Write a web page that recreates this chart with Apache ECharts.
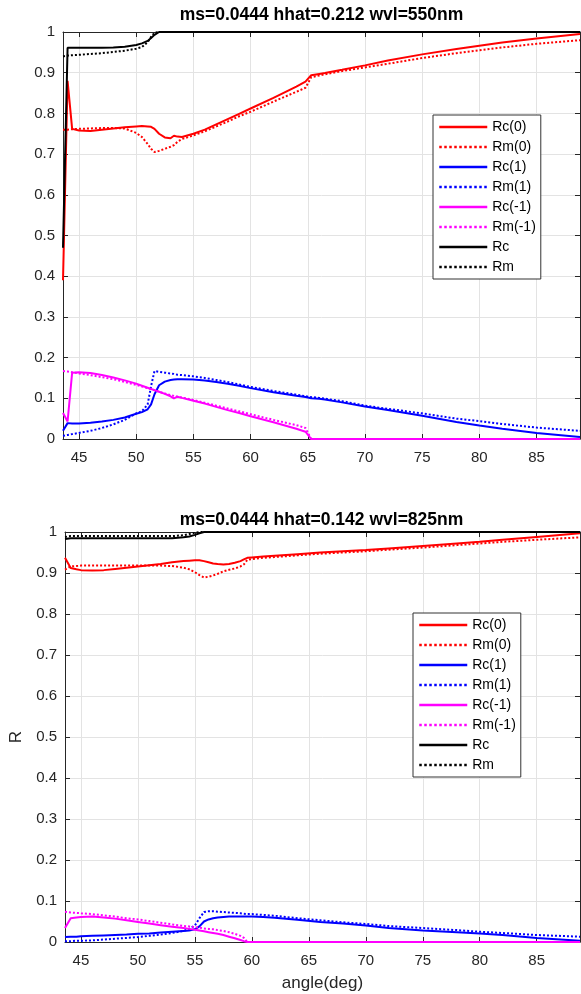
<!DOCTYPE html>
<html>
<head>
<meta charset="utf-8">
<script src="https://cdn.jsdelivr.net/npm/echarts@6/dist/echarts.min.js"></script>
<style>html,body{margin:0;padding:0;background:#fff;}#c{width:581px;height:994px;}</style>
</head>
<body>
<div id="c"></div>
<script>
// ---------- data: top panel (550 nm) ----------
var titleTop = 'ms=0.0444 hhat=0.212 wvl=550nm';
var titleBottom = 'ms=0.0444 hhat=0.142 wvl=825nm';
var seriesNames = ['Rc(0)','Rm(0)','Rc(1)','Rm(1)','Rc(-1)','Rm(-1)','Rc','Rm'];
var xTicks = [45,50,55,60,65,70,75,80,85];

var angleTop = [43.6,44.0,44.4,45,46,47,48,49,50,50.5,51,51.3,51.6,52,52.5,53,53.3,53.6,54,55,56,57,58,59,60,62,64,64.8,65.3,66,66.5,68,70,72,75,78,80,82,85,88.8];
var topRc0  = [0.39,0.88,0.762,0.758,0.757,0.76,0.763,0.766,0.768,0.769,0.768,0.767,0.762,0.75,0.741,0.739,0.745,0.743,0.742,0.75,0.76,0.773,0.786,0.799,0.812,0.838,0.866,0.878,0.894,0.897,0.899,0.907,0.918,0.93,0.945,0.958,0.966,0.974,0.984,0.995];
var topRm0  = [0.76,0.76,0.761,0.762,0.763,0.764,0.764,0.763,0.752,0.742,0.725,0.713,0.705,0.708,0.713,0.718,0.722,0.73,0.737,0.746,0.756,0.768,0.78,0.793,0.804,0.829,0.853,0.863,0.889,0.893,0.896,0.904,0.913,0.922,0.936,0.948,0.955,0.962,0.971,0.98];
var topRc1  = [0.02,0.039,0.038,0.038,0.04,0.043,0.047,0.053,0.062,0.066,0.073,0.085,0.11,0.132,0.141,0.145,0.146,0.147,0.147,0.146,0.144,0.14,0.136,0.131,0.125,0.115,0.106,0.103,0.1,0.099,0.097,0.09,0.08,0.071,0.057,0.042,0.033,0.025,0.015,0.005];
var topRm1  = [0.008,0.01,0.012,0.015,0.02,0.027,0.036,0.047,0.063,0.068,0.085,0.13,0.167,0.165,0.163,0.161,0.16,0.158,0.157,0.154,0.15,0.145,0.14,0.134,0.128,0.118,0.109,0.105,0.103,0.101,0.099,0.093,0.082,0.074,0.063,0.05,0.044,0.037,0.028,0.02];
var topRcm1 = [0.064,0.043,0.163,0.164,0.162,0.157,0.151,0.144,0.136,0.131,0.126,0.123,0.12,0.116,0.111,0.105,0.1,0.104,0.101,0.094,0.087,0.079,0.071,0.064,0.056,0.041,0.025,0.018,0,0,0,0,0,0,0,0,0,0,0,0];
var topRmm1 = [0.167,0.166,0.164,0.161,0.157,0.152,0.147,0.14,0.133,0.129,0.125,0.122,0.12,0.116,0.112,0.108,0.106,0.104,0.102,0.096,0.089,0.082,0.075,0.068,0.061,0.047,0.034,0.027,0,0,0,0,0,0,0,0,0,0,0,0];
var topRc   = [0.47,0.961,0.961,0.961,0.961,0.961,0.962,0.964,0.968,0.972,0.978,0.985,0.993,1,1,1,1,1,1,1,1,1,1,1,1,1,1,1,1,1,1,1,1,1,1,1,1,1,1,1];
var topRm   = [0.94,0.942,0.943,0.944,0.946,0.948,0.951,0.954,0.959,0.963,0.975,0.988,0.998,1,1,1,1,1,1,1,1,1,1,1,1,1,1,1,1,1,1,1,1,1,1,1,1,1,1,1];

// ---------- data: bottom panel (825 nm) ----------
var angleBot = [43.6,44.1,44.6,45,46,47,48,49,50,51,52,53,54,54.5,55,55.4,55.8,56.2,56.6,57,57.5,58,58.5,59,59.3,59.6,60,61,62,64,66,68,70,72,75,78,80,82,85,88.8];
var botRc0  = [0.937,0.912,0.909,0.907,0.906,0.907,0.91,0.913,0.916,0.919,0.922,0.926,0.929,0.93,0.931,0.931,0.929,0.926,0.923,0.922,0.921,0.922,0.925,0.929,0.933,0.937,0.938,0.94,0.942,0.946,0.95,0.953,0.956,0.96,0.966,0.972,0.976,0.981,0.988,0.997];
var botRm0  = [0.908,0.916,0.917,0.918,0.918,0.918,0.918,0.918,0.918,0.918,0.918,0.917,0.913,0.909,0.902,0.895,0.889,0.891,0.894,0.898,0.904,0.908,0.911,0.916,0.921,0.932,0.934,0.937,0.939,0.943,0.947,0.95,0.953,0.957,0.962,0.968,0.972,0.976,0.981,0.987];
var botRc1  = [0.012,0.013,0.013,0.014,0.015,0.016,0.017,0.018,0.02,0.021,0.023,0.025,0.027,0.028,0.031,0.038,0.05,0.055,0.058,0.06,0.061,0.062,0.062,0.062,0.062,0.062,0.062,0.061,0.059,0.054,0.049,0.045,0.04,0.034,0.028,0.024,0.021,0.017,0.01,0.003];
var botRm1  = [0.002,0.002,0.003,0.003,0.004,0.006,0.008,0.01,0.012,0.015,0.018,0.022,0.027,0.032,0.04,0.058,0.073,0.075,0.075,0.074,0.073,0.072,0.071,0.07,0.069,0.068,0.068,0.066,0.064,0.058,0.053,0.048,0.044,0.039,0.034,0.029,0.025,0.022,0.017,0.013];
var botRcm1 = [0.034,0.058,0.06,0.061,0.062,0.06,0.057,0.053,0.049,0.045,0.041,0.037,0.034,0.032,0.03,0.028,0.026,0.024,0.022,0.02,0.017,0.013,0.009,0.005,0.002,0,0,0,0,0,0,0,0,0,0,0,0,0,0,0];
var botRmm1 = [0.074,0.072,0.071,0.07,0.068,0.065,0.062,0.058,0.055,0.051,0.047,0.043,0.039,0.038,0.036,0.035,0.033,0.032,0.031,0.029,0.027,0.024,0.02,0.015,0.01,0,0,0,0,0,0,0,0,0,0,0,0,0,0,0];
var botRc   = [0.983,0.985,0.985,0.985,0.985,0.985,0.985,0.985,0.985,0.985,0.985,0.985,0.987,0.989,0.993,0.997,1,1,1,1,1,1,1,1,1,1,1,1,1,1,1,1,1,1,1,1,1,1,1,1];
var botRm   = [0.988,0.99,0.99,0.99,0.99,0.99,0.99,0.99,0.99,0.99,0.99,0.99,0.992,0.995,0.998,1,1,1,1,1,1,1,1,1,1,1,1,1,1,1,1,1,1,1,1,1,1,1,1,1];

var xMin = 43.6, xMax = 88.8;
var colors = ['#ff0000','#ff0000','#0000ff','#0000ff','#ff00ff','#ff00ff','#000000','#000000'];
var types = ['solid','dotted','solid','dotted','solid','dotted','solid','dotted'];

var topVals = [topRc0, topRm0, topRc1, topRm1, topRcm1, topRmm1, topRc, topRm];
var botVals = [botRc0, botRm0, botRc1, botRm1, botRcm1, botRmm1, botRc, botRm];

var tickFont = 'Liberation Sans';
var axisColor = '#262626';
var gridColor = '#e3e3e3';

function mkX(grid, pos, showLabels, name) {
  return {
    type: 'value', gridIndex: grid, position: pos, min: xMin, max: xMax, splitNumber: 9,
    axisLine: {show: true, onZero: false, lineStyle: {color: axisColor, width: 1}},
    axisTick: {show: true, inside: true, length: 5, lineStyle: {color: axisColor}},
    axisLabel: {show: showLabels, showMinLabel: false, showMaxLabel: false, margin: 11,
      fontFamily: tickFont, fontSize: 15, color: axisColor},
    splitLine: {show: pos === 'bottom', lineStyle: {color: gridColor, width: 1}},
    name: name || '', nameLocation: 'middle', nameGap: 33,
    nameTextStyle: {fontFamily: tickFont, fontSize: 17, color: axisColor}
  };
}
function mkY(grid, pos, showLabels, name) {
  return {
    type: 'value', gridIndex: grid, position: pos, min: 0, max: 1, interval: 0.1,
    axisLine: {show: true, lineStyle: {color: axisColor, width: 1}},
    axisTick: {show: true, inside: true, length: 5, lineStyle: {color: axisColor}},
    axisLabel: {show: showLabels, margin: 8, fontFamily: tickFont, fontSize: 15, color: axisColor},
    splitLine: {show: pos === 'left', lineStyle: {color: gridColor, width: 1}},
    name: name || '', nameLocation: 'middle', nameGap: 40,
    nameTextStyle: {fontFamily: tickFont, fontSize: 17, color: axisColor}
  };
}

var series = [];
function addSeries(angles, vals, axisIdx) {
  for (var s = 0; s < seriesNames.length; s++) {
    series.push({
      name: seriesNames[s], type: 'line', xAxisIndex: axisIdx, yAxisIndex: axisIdx,
      symbol: 'none', animation: false,
      data: angles.map(function (a, i) { return [a, vals[s][i]]; }),
      lineStyle: {color: colors[s], width: 2, type: types[s]},
      itemStyle: {color: colors[s]}
    });
  }
}
addSeries(angleTop, topVals, 0);
addSeries(angleBot, botVals, 2);

function mkLegend(l, t) {
  return {
    orient: 'vertical', left: l, top: t, data: seriesNames,
    itemWidth: 48, itemHeight: 14, itemGap: 6, padding: [5, 5, 5, 5],
    backgroundColor: '#fff', borderColor: '#333', borderWidth: 1,
    selectedMode: false,
    itemStyle: {opacity: 0, borderWidth: 0},
    lineStyle: {width: 2.5},
    textStyle: {fontFamily: tickFont, fontSize: 14, color: '#000', padding: [0,0,0,0]}
  };
}

var chart = echarts.init(document.getElementById('c'), null, {renderer: 'canvas'});
chart.setOption({
  animation: false,
  backgroundColor: '#fff',
  title: [
    {text: titleTop, left: 321.5, top: 6, textAlign: 'center', padding: 0,
      textStyle: {fontFamily: tickFont, fontWeight: 'bold', fontSize: 17.5, color: '#000'}},
    {text: titleBottom, left: 321.5, top: 511, textAlign: 'center', padding: 0,
      textStyle: {fontFamily: tickFont, fontWeight: 'bold', fontSize: 17.5, color: '#000'}}
  ],
  grid: [
    {left: 63, top: 32, width: 517, height: 407, containLabel: false},
    {left: 63, top: 532, width: 517, height: 410, containLabel: false}
  ],
  xAxis: [mkX(0, 'bottom', true), mkX(0, 'top', false), mkX(1, 'bottom', true, 'angle(deg)'), mkX(1, 'top', false)],
  yAxis: [mkY(0, 'left', true), mkY(0, 'right', false), mkY(1, 'left', true, 'R'), mkY(1, 'right', false)],
  legend: [mkLegend(433, 115), mkLegend(413, 613)],
  series: series
});
</script>
</body>
</html>
